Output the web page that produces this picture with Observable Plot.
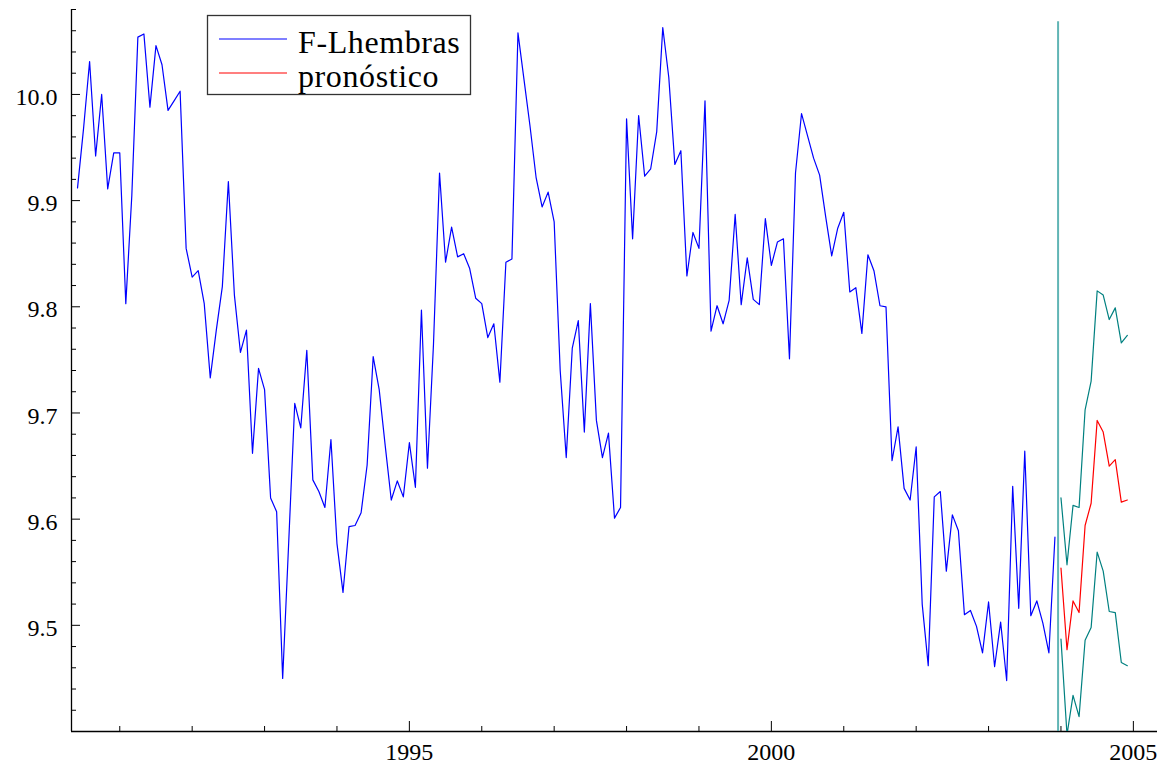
<!DOCTYPE html>
<html>
<head>
<meta charset="utf-8">
<script src="https://cdn.jsdelivr.net/npm/d3@7"></script>
<script src="https://cdn.jsdelivr.net/npm/@observablehq/plot@0.6"></script>
<style>
  html, body { margin: 0; padding: 0; background: #fff; }
  #wrap { position: relative; width: 1161px; height: 764px; }
  #legend { position: absolute; left: 0; top: 0; }
  svg text { font-family: "Liberation Serif", "Times New Roman", serif !important; }
</style>
</head>
<body>
<div id="wrap"></div>
<script>
// ---- data ----
const seriesName = "F-Lhembras";
const forecastName = "pronóstico";
const startYear = 1990, startMonth = 6; // first observation: June 1990
const observed = [
  9.912, 9.968, 10.031, 9.942, 10.000, 9.911, 9.945, 9.945, 9.803, 9.905,
  10.054, 10.057, 9.988, 10.046, 10.028, 9.985, 9.994, 10.003, 9.855, 9.828,
  9.834, 9.803, 9.733, 9.778, 9.819, 9.918, 9.811, 9.757, 9.778, 9.662,
  9.742, 9.722, 9.620, 9.607, 9.450, 9.578, 9.709, 9.686, 9.759, 9.637,
  9.626, 9.611, 9.675, 9.577, 9.531, 9.593, 9.594, 9.606, 9.651, 9.753,
  9.722, 9.669, 9.618, 9.636, 9.621, 9.672, 9.630, 9.797, 9.648, 9.765,
  9.926, 9.842, 9.875, 9.847, 9.850, 9.836, 9.808, 9.803, 9.771, 9.784,
  9.729, 9.842, 9.845, 10.058, 10.014, 9.970, 9.922, 9.894, 9.908, 9.880,
  9.740, 9.658, 9.761, 9.787, 9.682, 9.803, 9.693, 9.658, 9.681, 9.601,
  9.611, 9.977, 9.864, 9.980, 9.923, 9.930, 9.965, 10.063, 10.016, 9.934,
  9.947, 9.829, 9.870, 9.855, 9.994, 9.777, 9.801, 9.784, 9.806, 9.887,
  9.802, 9.846, 9.807, 9.802, 9.883, 9.839, 9.861, 9.864, 9.751, 9.926,
  9.982, 9.961, 9.940, 9.924, 9.885, 9.848, 9.874, 9.889, 9.814, 9.818,
  9.775, 9.849, 9.834, 9.801, 9.800, 9.655, 9.687, 9.629, 9.618, 9.668,
  9.520, 9.462, 9.621, 9.626, 9.551, 9.604, 9.589, 9.510, 9.514, 9.499,
  9.474, 9.522, 9.461, 9.503, 9.448, 9.631, 9.516, 9.664, 9.509, 9.523,
  9.502, 9.474, 9.583
];
const forecastYear = 2004, forecastStartMonth = 1;
const forecast = [9.554, 9.477, 9.523, 9.512, 9.594, 9.615, 9.693, 9.682, 9.650, 9.656, 9.616, 9.618];
const upper    = [9.620, 9.557, 9.613, 9.611, 9.703, 9.730, 9.815, 9.811, 9.788, 9.799, 9.766, 9.773];
const lower    = [9.487, 9.397, 9.434, 9.414, 9.486, 9.498, 9.569, 9.551, 9.513, 9.512, 9.465, 9.462];
const markerDate = 2003.96;          // vertical marker before forecast
const markerTop = 10.0685;
const yLabelTicks = [9.5, 9.6, 9.7, 9.8, 9.9, 10.0];
const yMinorTicks = d3.range(0, 35).map(i => +(9.40 + i * 0.02).toFixed(2));
const xLabelTicks = [1995, 2000, 2005];
const xMinorTicks = d3.range(1991, 2005);

// ---- build tables ----
const obsData = observed.map((v, i) => ({t: startYear + (startMonth - 1 + i) / 12, v}));
const fcData = forecast.map((v, i) => ({
  t: forecastYear + (forecastStartMonth - 1 + i) / 12, v, hi: upper[i], lo: lower[i]
}));

const W = 1161, H = 764;
const mL = 71, mR = 4, mT = 9, mB = 33;
const plotW = W - mL - mR, plotH = H - mT - mB;
const xDomain = [1990 + 4/12, 2005 + 4/12];
const yDomain = [9.4, 10.08];
const serif = "Liberation Serif";

const chart = Plot.plot({
  width: W, height: H,
  marginLeft: mL, marginRight: mR, marginTop: mT, marginBottom: mB,
  style: {fontFamily: serif, background: "white", overflow: "visible"},
  x: {type: "linear", domain: xDomain, axis: null},
  y: {type: "linear", domain: yDomain, axis: null},
  marks: [
    // ticks (inward)
    Plot.tickY(yMinorTicks.filter(d => !yLabelTicks.includes(d)), {y: d => d, insetRight: plotW - 5, stroke: "#000", strokeWidth: 1}),
    Plot.tickY(yLabelTicks, {y: d => d, insetRight: plotW - 9, stroke: "#000", strokeWidth: 1}),
    Plot.tickX(xMinorTicks.filter(d => !xLabelTicks.includes(d)), {x: d => d, insetTop: plotH - 5, stroke: "#000", strokeWidth: 1}),
    Plot.tickX(xLabelTicks, {x: d => d, insetTop: plotH - 10, stroke: "#000", strokeWidth: 1}),
    // axis lines
    Plot.ruleY([yDomain[0]], {stroke: "#000", strokeWidth: 1.3}),
    Plot.ruleX([xDomain[0]], {stroke: "#000", strokeWidth: 1.3}),
    // labels
    Plot.text(xLabelTicks, {x: d => d, frameAnchor: "bottom", lineAnchor: "top", dy: 11, text: d => String(d), fontSize: 24, fill: "#000"}),
    Plot.text(yLabelTicks, {y: d => d, frameAnchor: "left", textAnchor: "end", dx: -14, dy: 3, text: d => d.toFixed(1), fontSize: 24, fill: "#000"}),
    // data
    Plot.line(obsData, {x: "t", y: "v", stroke: "#0000ff", strokeWidth: 1.2}),
    Plot.ruleX([markerDate], {x: d => d, y1: yDomain[0], y2: markerTop, stroke: "#3aa3a3", strokeWidth: 2, strokeOpacity: 0.8}),
    Plot.line(fcData, {x: "t", y: "hi", stroke: "#008080", strokeWidth: 1.2, clip: true}),
    Plot.line(fcData, {x: "t", y: "lo", stroke: "#008080", strokeWidth: 1.2, clip: true}),
    Plot.line(fcData, {x: "t", y: "v", stroke: "#ff0000", strokeWidth: 1.2, clip: true})
  ]
});

const wrap = document.getElementById("wrap");
wrap.appendChild(chart);

// legend overlay
const ns = "http://www.w3.org/2000/svg";
const leg = document.createElementNS(ns, "svg");
leg.setAttribute("id", "legend");
leg.setAttribute("width", W);
leg.setAttribute("height", 110);
const items = [[seriesName, "#0000ff", 39, 53], [forecastName, "#ff0000", 73, 87]];
const box = document.createElementNS(ns, "rect");
box.setAttribute("x", 207.5); box.setAttribute("y", 15.5);
box.setAttribute("width", 263); box.setAttribute("height", 79);
box.setAttribute("fill", "white"); box.setAttribute("stroke", "#333"); box.setAttribute("stroke-width", 1.3);
leg.appendChild(box);
for (const [name, color, ly, ty] of items) {
  const ln = document.createElementNS(ns, "line");
  ln.setAttribute("x1", 219); ln.setAttribute("x2", 287);
  ln.setAttribute("y1", ly); ln.setAttribute("y2", ly);
  ln.setAttribute("stroke", color); ln.setAttribute("stroke-width", 1.2);
  leg.appendChild(ln);
  const tx = document.createElementNS(ns, "text");
  tx.setAttribute("x", 298); tx.setAttribute("y", ty);
  tx.setAttribute("font-size", 32);
  tx.setAttribute("letter-spacing", "0.6");
  tx.setAttribute("fill", "#000");
  tx.textContent = name;
  leg.appendChild(tx);
}
wrap.appendChild(leg);
</script>
</body>
</html>
